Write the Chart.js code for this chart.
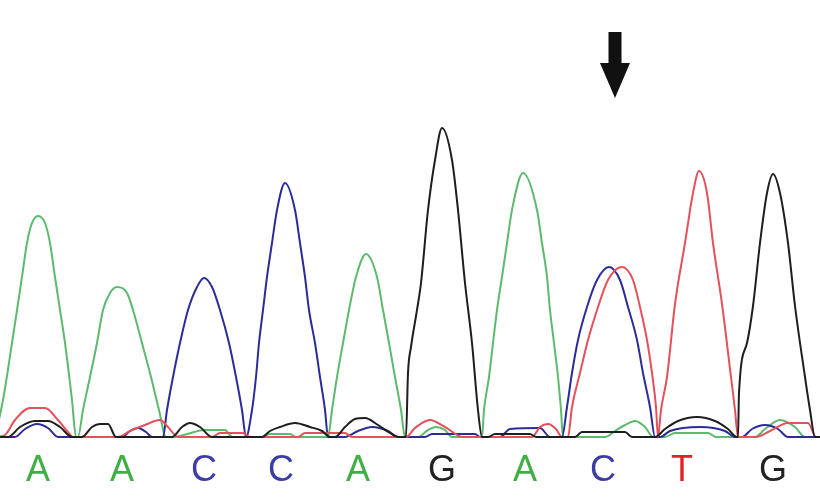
<!DOCTYPE html>
<html>
<head>
<meta charset="utf-8">
<script src="https://cdn.jsdelivr.net/npm/chart.js@4/dist/chart.umd.min.js"></script>
<style>
html,body{margin:0;padding:0;background:#fff;}
canvas{display:block;}
</style>
</head>
<body>
<canvas id="c" width="820" height="498"></canvas>
<script>
// Base calls and their positions along the trace (scan units)
const basePositions = [38, 122, 204, 281, 358, 442, 525, 603, 682, 773];
const baseCalls = ['A', 'A', 'C', 'C', 'A', 'G', 'A', 'C', 'T', 'G'];

// Trace signals: [position, intensity]
const traceA = [
  [-5,0],[3,37],[12,94],[17,127],[22,160],[27,194],[32,214],[38,221],[45,214],[50,194],[55,160],[60,127],[65,94],[72,37],[76,0],
  [78,0],[83,27],[90,60],[97,94],[103,127],[110,144],[117,150],[127,144],[133,127],[142,94],[151,60],[159,27],[166,0],
  [175,0],[187,3],[205,7],[225,7],[232,0],
  [262,0],[270,3],[290,3],[296,0],
  [328,0],[332,27],[337,60],[343,94],[349,127],[356,160],[366,183],[377,160],[383,127],[389,94],[395,60],[401,27],[405,0],
  [418,0],[428,7],[436,10],[445,7],[452,0],
  [482,0],[484,27],[489,60],[493,94],[497,127],[502,160],[507,194],[512,227],[523,264],[537,227],[542,194],[547,160],[550,127],[554,94],[558,60],[561,27],[563,0],
  [605,0],[615,6],[625,12],[635,16],[645,10],[653,0],
  [665,0],[675,4],[708,4],[716,0],
  [755,0],[765,8],[780,17],[795,10],[805,0],[825,0]
];
const traceC = [
  [-5,0],[15,0],[25,8],[37,13],[48,9],[58,0],
  [122,0],[130,6],[138,9],[146,5],[152,0],
  [163,0],[167,27],[173,60],[180,94],[188,127],[197,150],[204,159],[212,150],[220,127],[229,94],[236,60],[242,27],[246,0],
  [252,27],[256,60],[259,94],[263,127],[267,160],[272,194],[277,227],[285,254],[295,227],[300,194],[305,160],[309,127],[315,94],[320,60],[325,27],[328,0],
  [345,0],[358,6],[372,10],[388,6],[398,0],
  [425,0],[432,3],[475,3],[480,0],
  [500,0],[510,8],[540,9],[550,0],
  [562,0],[567,30],[572,64],[578,97],[587,130],[597,157],[609,170],[620,157],[628,130],[637,97],[643,64],[650,30],[655,0],
  [660,0],[670,6],[700,10],[725,6],[735,0],
  [742,0],[752,8],[765,12],[778,8],[788,0],[825,0]
];
const traceT = [
  [-5,0],[5,2],[15,17],[30,29],[45,29],[58,17],[68,5],[73,0],
  [118,0],[130,6],[145,12],[160,17],[168,10],[178,0],
  [212,0],[220,4],[243,4],[250,0],
  [298,0],[305,4],[345,4],[352,0],
  [406,0],[415,9],[430,17],[445,10],[463,0],
  [532,0],[540,10],[548,13],[556,8],[562,0],
  [568,0],[572,30],[580,64],[588,97],[598,130],[608,157],[622,170],[633,157],[640,130],[647,97],[652,64],[656,30],[658,0],
  [661,27],[667,60],[675,133],[685,194],[693,244],[699,266],[707,244],[713,194],[722,133],[731,60],[735,27],[738,0],
  [756,0],[770,6],[788,14],[808,14],[816,0],[825,0]
];
const traceG = [
  [-5,0],[8,0],[20,10],[35,16],[48,16],[60,10],[72,0],
  [82,0],[92,10],[100,13],[108,13],[116,0],
  [172,0],[182,10],[190,14],[200,10],[212,0],
  [262,0],[270,6],[280,10],[295,14],[310,10],[322,6],[330,0],
  [335,0],[345,10],[355,18],[365,19],[378,12],[390,4],[398,0],
  [406,0],[408,64],[411,90],[417,127],[421,154],[428,227],[435,277],[442,309],[452,277],[458,227],[465,154],[472,94],[478,27],[482,0],
  [488,0],[495,3],[530,3],[536,0],
  [575,0],[582,5],[625,5],[632,0],
  [655,0],[665,8],[678,16],[697,20],[715,16],[728,8],[737,0],
  [738,0],[739,44],[747,94],[753,131],[760,194],[767,244],[773,263],[780,244],[788,194],[795,131],[805,60],[810,27],[815,0],[825,0]
];

// Marker arrow (position, top, neck, tip in data units)
const arrowAt = 615, arrowTop = 405, arrowNeck = 374, arrowTip = 339;

const traceColors = { A: '#5cba6e', C: '#2c2c98', G: '#1e1e1e', T: '#e6505a' };
const letterColors = { A: '#3fae45', C: '#3c3ca6', G: '#222222', T: '#e02228' };

const toPts = arr => arr.map(p => ({ x: p[0], y: p[1] }));

const arrowPlugin = {
  id: 'arrow',
  afterDatasetsDraw(chart) {
    const { ctx, scales: { x, y } } = chart;
    const cx = x.getPixelForValue(arrowAt);
    const yt = y.getPixelForValue(arrowTop);
    const yn = y.getPixelForValue(arrowNeck);
    const yp = y.getPixelForValue(arrowTip);
    ctx.save();
    ctx.fillStyle = '#111';
    ctx.beginPath();
    ctx.moveTo(cx - 6.5, yt);
    ctx.lineTo(cx + 6.5, yt);
    ctx.lineTo(cx + 6.5, yn);
    ctx.lineTo(cx + 15, yn);
    ctx.lineTo(cx, yp);
    ctx.lineTo(cx - 15, yn);
    ctx.lineTo(cx - 6.5, yn);
    ctx.closePath();
    ctx.fill();
    ctx.restore();
  }
};

const ds = (data, color) => ({
  data: toPts(data),
  borderColor: color,
  borderWidth: 2,
  pointRadius: 0,
  fill: false,
  cubicInterpolationMode: 'monotone',
  clip: { left: 0, top: 0, right: 0, bottom: 4 }
});

new Chart(document.getElementById('c'), {
  type: 'line',
  data: {
    datasets: [
      ds(traceG, traceColors.G),
      ds(traceT, traceColors.T),
      ds(traceC, traceColors.C),
      ds(traceA, traceColors.A)
    ]
  },
  options: {
    responsive: false,
    animation: false,
    layout: { padding: 0 },
    plugins: { legend: { display: false }, tooltip: { enabled: false } },
    scales: {
      x: {
        type: 'linear',
        min: 0,
        max: 820,
        bounds: 'data',
        grid: { display: false, drawTicks: false },
        border: { display: false },
        afterBuildTicks: s => { s.ticks = basePositions.map(v => ({ value: v })); },
        afterFit: s => { s.height = 61; },
        ticks: {
          autoSkip: false,
          maxRotation: 0,
          padding: 12,
          font: { family: 'Liberation Sans', size: 36 },
          color: c => letterColors[baseCalls[c.index]],
          callback: (v, i) => baseCalls[i]
        }
      },
      y: {
        display: false,
        min: 0,
        max: 437
      }
    }
  },
  plugins: [arrowPlugin]
});
</script>
</body>
</html>
